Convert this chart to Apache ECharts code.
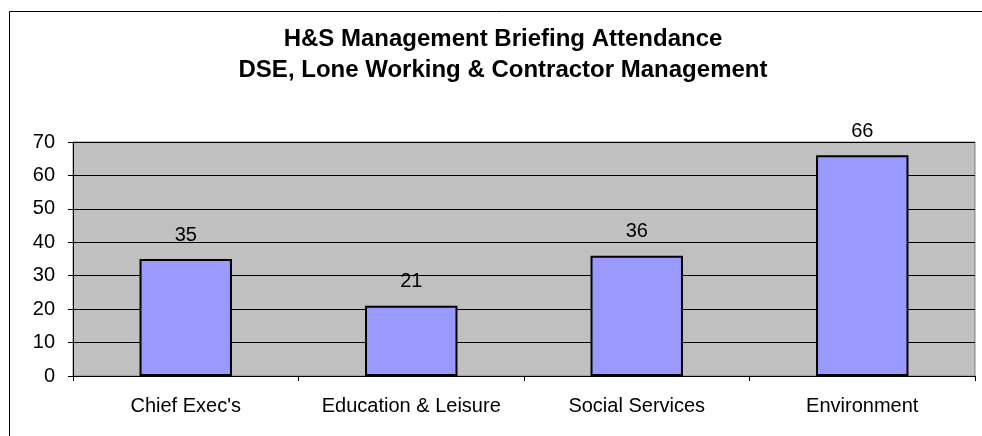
<!DOCTYPE html>
<html><head><meta charset="utf-8">
<script src="https://cdn.jsdelivr.net/npm/echarts@6/dist/echarts.min.js"></script>
<style>html,body{margin:0;padding:0;background:#fff}#c{width:982px;height:436px}</style>
</head><body><div id="c"></div>
<script>
const categories = ["Chief Exec's", "Education & Leisure", "Social Services", "Environment"];
const attendance = [35, 21, 36, 66];
const yTicks = [0, 10, 20, 30, 40, 50, 60, 70];
const titleLines = ["H&S Management Briefing Attendance", "DSE, Lone Working & Contractor Management"];

const chart = echarts.init(document.getElementById('c'), null, {renderer: 'canvas'});
const font = "'Liberation Sans', Arial, sans-serif";
chart.setOption({
  animation: false,
  backgroundColor: '#ffffff',
  title: {
    text: titleLines.join('\n'),
    left: 503, top: 24, textAlign: 'center', padding: 0,
    textStyle: {fontFamily: font, fontWeight: 'bold', fontSize: 24, color: '#000', lineHeight: 31}
  },
  graphic: [{
    type: 'rect', shape: {x: 9.5, y: 11.5, width: 1000, height: 500},
    style: {fill: 'none', stroke: '#000', lineWidth: 1}, z: 100
  }],
  grid: {left: 73, top: 142, width: 902, height: 234, containLabel: false,
    show: true, backgroundColor: '#c0c0c0', borderColor: '#808080', borderWidth: 1},
  xAxis: {
    type: 'category', data: categories,
    axisLine: {lineStyle: {color: '#000', width: 1}},
    axisTick: {show: true, interval: 0, length: 5, lineStyle: {color: '#000'}, alignWithLabel: false},
    axisLabel: {interval: 0, fontFamily: font, fontSize: 20, color: '#000', margin: 20},
    splitLine: {show: false}
  },
  yAxis: {
    type: 'value', min: yTicks[0], max: yTicks[yTicks.length - 1], interval: 10,
    axisLine: {show: true, lineStyle: {color: '#000', width: 1}},
    axisTick: {show: true, length: 5, lineStyle: {color: '#000'}},
    axisLabel: {fontFamily: font, fontSize: 20, color: '#000', margin: 18},
    splitLine: {show: true, lineStyle: {color: '#000', width: 1}}
  },
  series: [{
    type: 'bar', data: attendance, barWidth: '41%',
    itemStyle: {color: '#9999ff', borderColor: '#000', borderWidth: 2},
    label: {show: true, position: 'top', distance: 14, fontFamily: font, fontSize: 20, color: '#000'}
  }]
});
</script></body></html>
